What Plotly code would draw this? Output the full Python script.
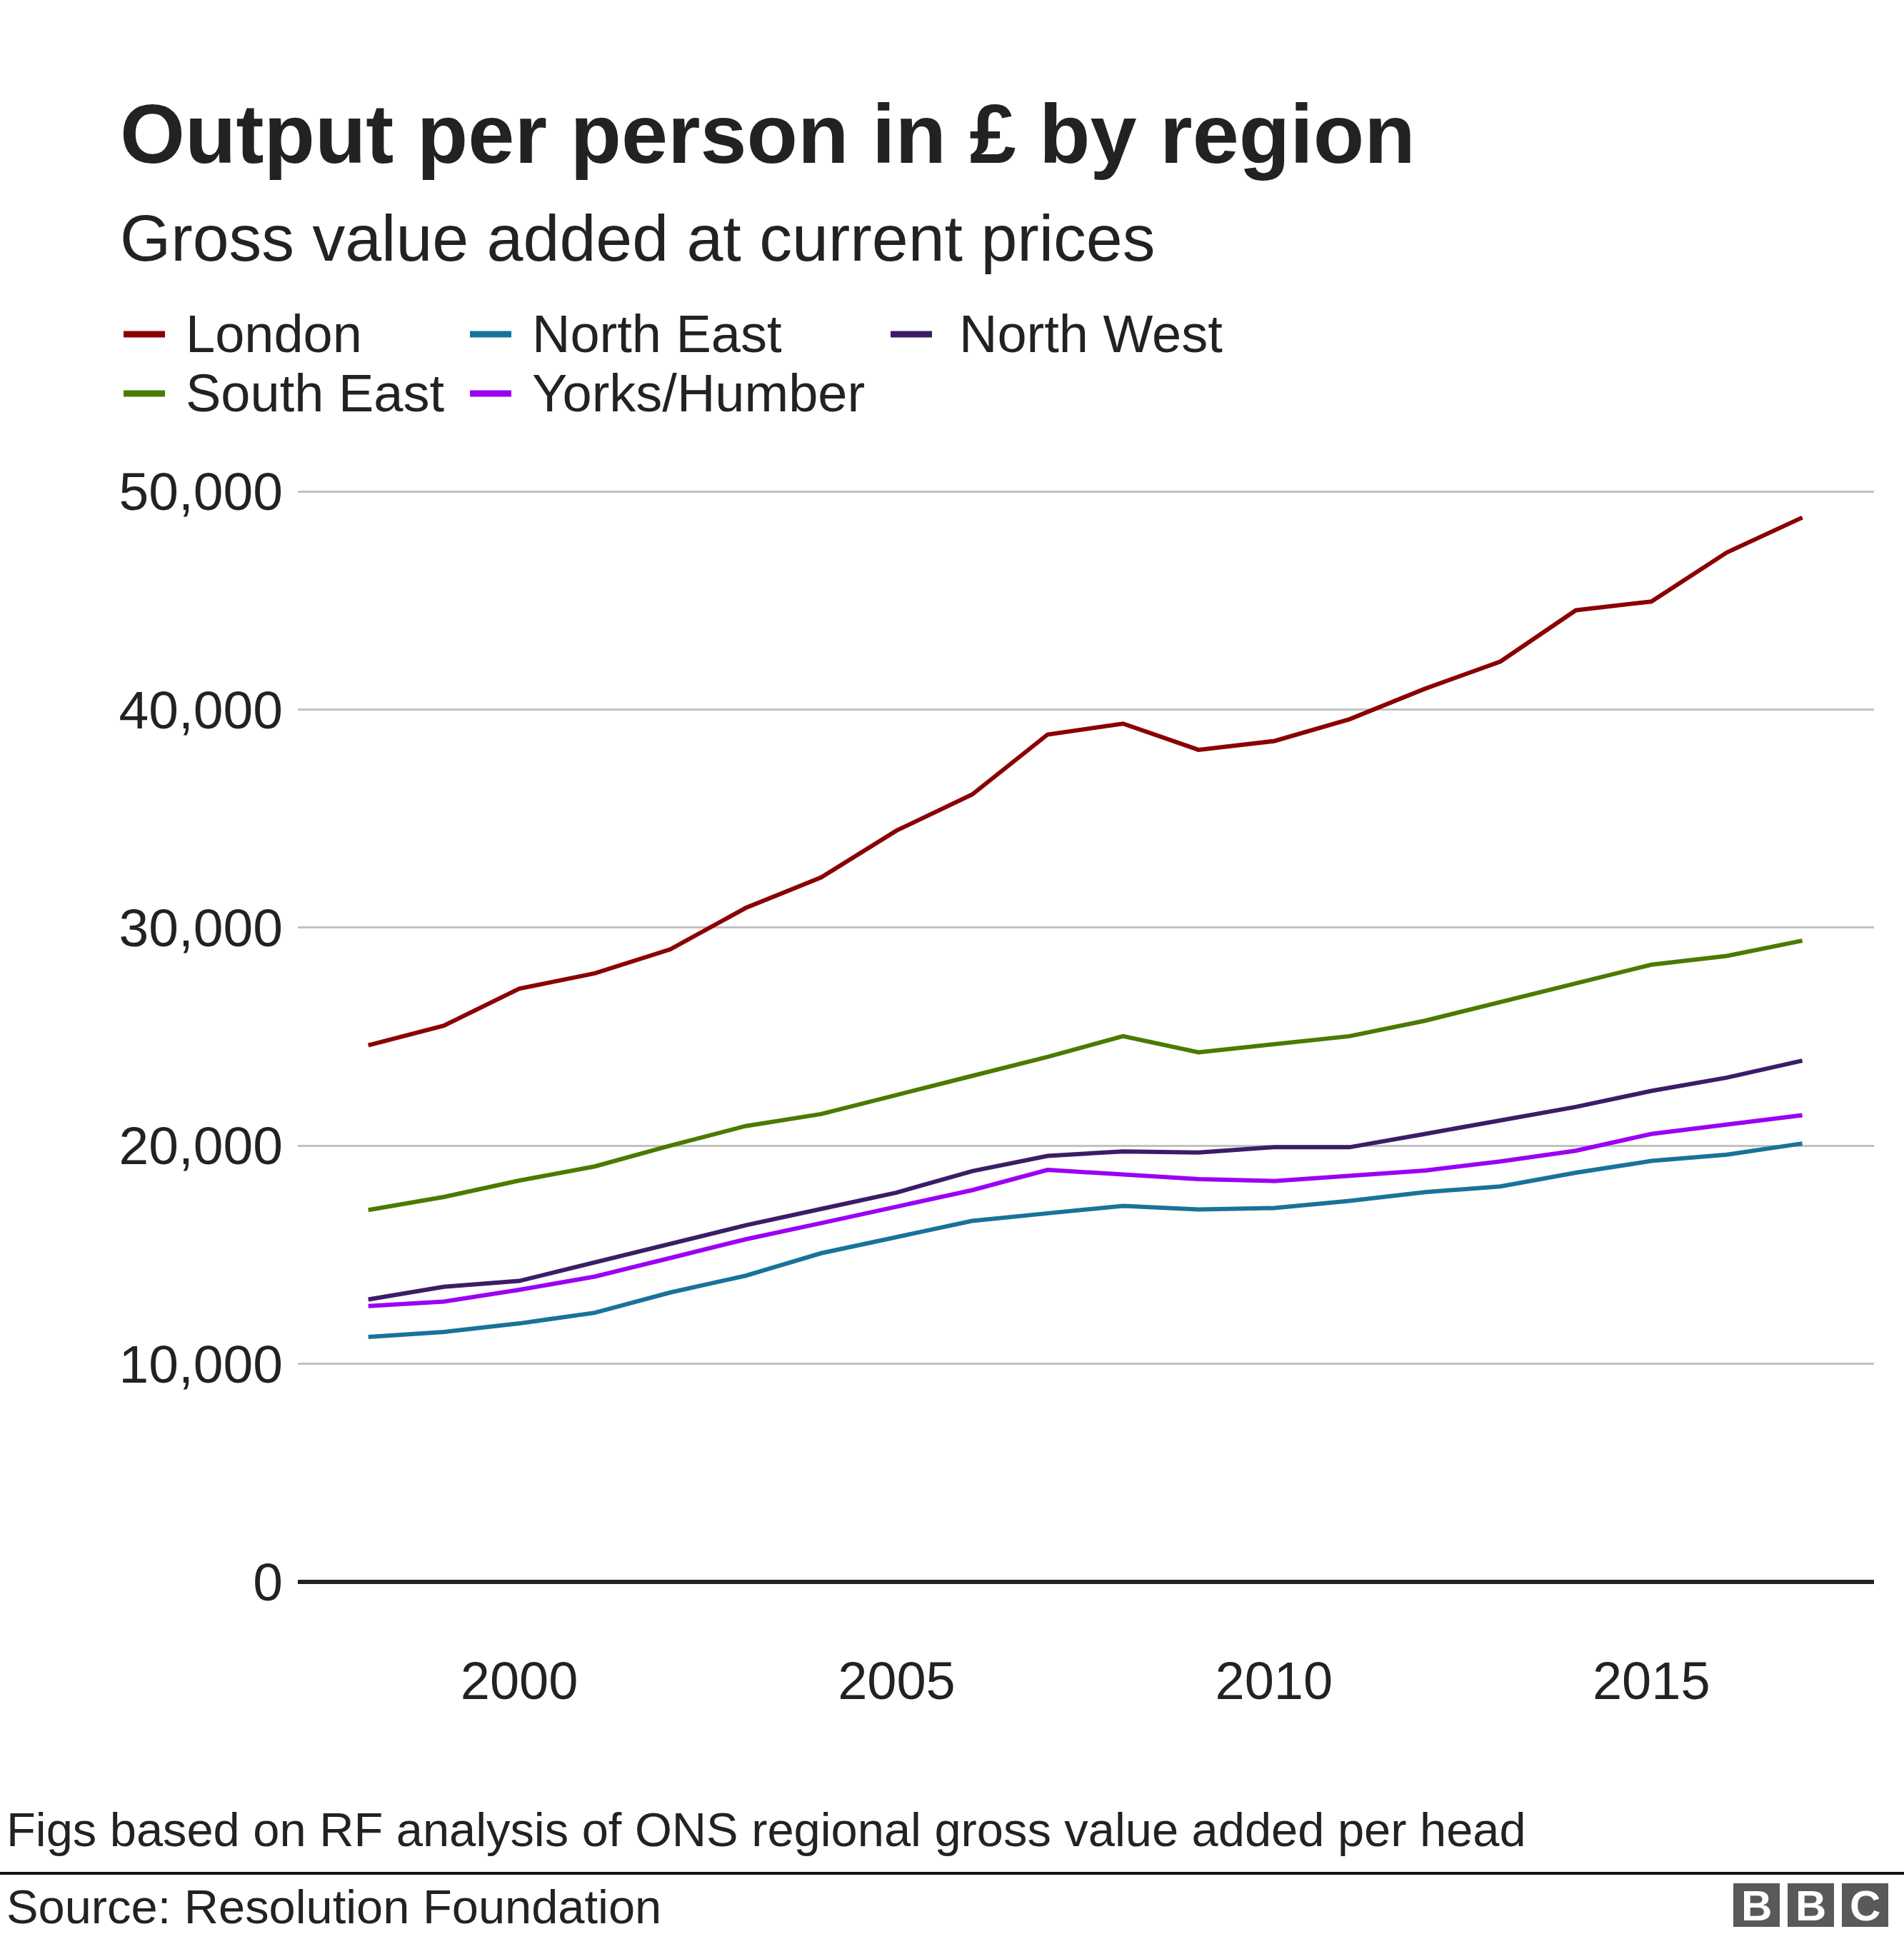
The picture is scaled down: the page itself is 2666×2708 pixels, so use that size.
import plotly.graph_objects as go

# ---------------- data ----------------
years = list(range(1998, 2018))
london = [24600, 25500, 27200, 27900, 29000, 30900, 32300, 34450, 36100, 38850,
          39350, 38150, 38550, 39550, 40950, 42200, 44550, 44950, 47200, 48800]
north_east = [11230, 11460, 11850, 12340, 13270, 14040, 15070, 15820, 16550, 16900,
              17240, 17080, 17140, 17470, 17870, 18130, 18760, 19300, 19590, 20100]
north_west = [12950, 13530, 13800, 14650, 15450, 16350, 17100, 17850, 18830, 19530,
              19740, 19690, 19930, 19930, 20540, 21140, 21780, 22510, 23120, 23900]
south_east = [17050, 17650, 18400, 19050, 20000, 20900, 21450, 22350, 23200, 24070,
              25020, 24280, 24650, 25020, 25730, 26570, 27450, 28300, 28700, 29400]
yorks_humber = [12650, 12850, 13390, 14000, 14850, 15710, 16450, 17200, 17960, 18890,
                18700, 18470, 18380, 18600, 18860, 19280, 19770, 20540, 20950, 21400]

region_names = ["London", "North East", "North West", "South East", "Yorks/Humber"]
region_values = [london, north_east, north_west, south_east, yorks_humber]
region_colors = ["#8B0000", "#18739A", "#3C1C66", "#4B7A00", "#9B00F5"]

x_tickvals = [2000, 2005, 2010, 2015]
y_tickvals = [0, 10000, 20000, 30000, 40000, 50000]

title_text = "<b>Output per person in £ by region</b>"
subtitle_text = "Gross value added at current prices"
note_text = "Figs based on RF analysis of ONS regional gross value added per head"
source_text = "Source: Resolution Foundation"

# ---------------- layout geometry ----------------
W, H = 2666, 2708
L, R, T, B = 417, 42, 640, 493
PW = W - L - R
PH = H - T - B
Y_ZERO_PX = H - B          # pixel row of value 0
Y_50K_PX = 688             # pixel row of value 50,000
y_top = 50000 * (Y_ZERO_PX - T) / (Y_ZERO_PX - Y_50K_PX)

FONT = "Liberation Sans, Arial, Helvetica, sans-serif"
TXT = "#222222"


def px(x):
    return (x - L) / PW


def py(y):
    return (H - B - y) / PH


fig = go.Figure()
for name, vals, col in zip(region_names, region_values, region_colors):
    fig.add_trace(go.Scatter(x=years, y=vals, mode="lines", name=name,
                             line=dict(color=col, width=6), showlegend=False))

annotations = [
    dict(text=subtitle_text, x=px(166), y=py(333), xref="paper", yref="paper",
         xanchor="left", yanchor="middle", showarrow=False,
         font=dict(family=FONT, size=91.5, color=TXT)),
    dict(text=note_text, x=px(7), y=py(2562), xref="paper", yref="paper",
         xanchor="left", yanchor="middle", showarrow=False,
         font=dict(family=FONT, size=66.8, color=TXT)),
    dict(text=source_text, x=px(7), y=py(2670), xref="paper", yref="paper",
         xanchor="left", yanchor="middle", showarrow=False,
         font=dict(family=FONT, size=66.8, color=TXT)),
]

shapes = [
    dict(type="line", xref="paper", yref="paper", x0=px(0), x1=px(W),
         y0=py(2623), y1=py(2623), line=dict(color="#111111", width=4)),
]

# legend key (grid of 3 columns x 2 rows): swatch x, row y, label x
legend_slots = [(173, 468, 258), (658, 468, 743), (1247, 468, 1341),
                (173, 551, 258), (658, 551, 743)]
for name, col, (sx, sy, tx) in zip(region_names, region_colors, legend_slots):
    shapes.append(dict(type="line", xref="paper", yref="paper",
                       x0=px(sx), x1=px(sx + 58), y0=py(sy), y1=py(sy),
                       line=dict(color=col, width=9)))
    annotations.append(dict(text=name, x=px(tx), y=py(sy), xref="paper", yref="paper",
                            xanchor="left", yanchor="middle", showarrow=False,
                            font=dict(family=FONT, size=74, color=TXT)))

# BBC logo blocks
for letter, bx in zip(["B", "B", "C"], [2427, 2503, 2579]):
    shapes.append(dict(type="rect", xref="paper", yref="paper",
                       x0=px(bx), x1=px(bx + 65), y0=py(2698), y1=py(2637),
                       fillcolor="#595959", line=dict(width=0)))
    annotations.append(dict(text="<b>" + letter + "</b>", x=px(bx + 32.5), y=py(2668),
                            xref="paper", yref="paper", xanchor="center", yanchor="middle",
                            showarrow=False,
                            font=dict(family=FONT, size=60, color="white")))

fig.update_layout(
    width=W, height=H,
    margin=dict(l=L, r=R, t=T, b=B, pad=0),
    paper_bgcolor="white", plot_bgcolor="white",
    showlegend=False,
    title=dict(text=title_text, x=168 / W, xref="container", xanchor="left",
               y=1 - 187 / H, yref="container", yanchor="middle",
               font=dict(family=FONT, size=117, color=TXT)),
    annotations=annotations,
    shapes=shapes,
    hovermode=False,
)

fig.update_xaxes(range=[1997.066, 2017.95], tickvals=x_tickvals,
                 showgrid=False, zeroline=False, showline=False,
                 ticks="outside", ticklen=74, tickcolor="rgba(0,0,0,0)",
                 tickfont=dict(family=FONT, size=74, color=TXT))
fig.update_yaxes(range=[0, y_top], tickvals=y_tickvals, tickformat=",",
                 showgrid=True, gridcolor="#c2c2c2", gridwidth=3,
                 zeroline=True, zerolinecolor="#222222", zerolinewidth=6,
                 showline=False,
                 ticks="outside", ticklen=5, tickcolor="rgba(0,0,0,0)",
                 tickfont=dict(family=FONT, size=75, color=TXT))

fig.write_html("out.html",
               config={"displayModeBar": False, "staticPlot": True},
               post_script="document.body.style.margin='0px';document.body.style.padding='0px';")
